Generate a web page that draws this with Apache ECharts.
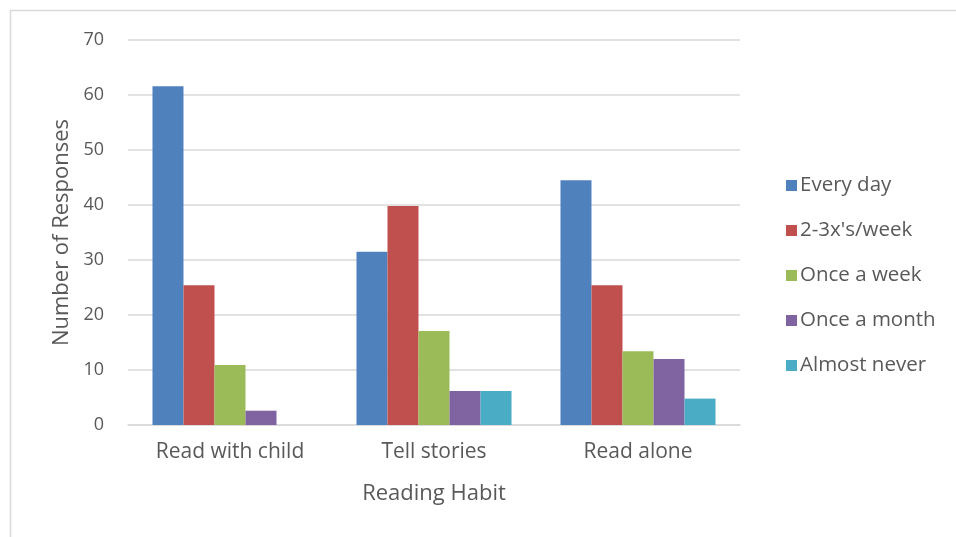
<!DOCTYPE html>
<html>
<head>
<meta charset="utf-8">
<script src="https://cdn.jsdelivr.net/npm/echarts@6/dist/echarts.min.js"></script>
<style>
  html, body { margin: 0; padding: 0; background: #fff; }
  #chart { width: 956px; height: 537px; }
</style>
</head>
<body>
<div id="chart"></div>
<script>
// Reading habit survey: number of responses per frequency
const categories = ['Read with child', 'Tell stories', 'Read alone'];
const seriesNames = ['Every day', "2-3x's/week", 'Once a week', 'Once a month', 'Almost never'];
const everyDay = [61.6, 31.5, 44.5];
const twoThreeWeek = [25.4, 39.8, 25.4];
const onceWeek = [10.9, 17.1, 13.4];
const onceMonth = [2.6, 6.2, 12.0];
const almostNever = [0, 6.2, 4.8];
const yTicks = [0, 10, 20, 30, 40, 50, 60, 70];

const seriesValues = [everyDay, twoThreeWeek, onceWeek, onceMonth, almostNever];
const colors = ['#4F81BD', '#C0504D', '#9BBB59', '#8064A2', '#4BACC6'];
const font = '"Open Sans", "Noto Sans", sans-serif';
const textColor = '#595959';

const chart = echarts.init(document.getElementById('chart'));
chart.setOption({
  animation: false,
  color: colors,
  textStyle: { fontFamily: font },
  graphic: [{
    type: 'rect',
    shape: { x: 10.5, y: 10.5, width: 1000, height: 600 },
    style: { fill: 'none', stroke: '#d9d9d9', lineWidth: 1.5 },
    silent: true,
    z: -1
  }],
  grid: { left: 128, right: 216, top: 40, bottom: 112 },
  legend: {
    orient: 'vertical',
    left: 781,
    top: 170,
    itemWidth: 11,
    itemHeight: 11,
    itemGap: 24,
    icon: 'rect',
    data: seriesNames,
    textStyle: { fontFamily: font, fontSize: 20.5, color: textColor, padding: [0, 0, 0, -2] }
  },
  xAxis: {
    type: 'category',
    data: categories,
    name: 'Reading Habit',
    nameLocation: 'middle',
    nameGap: 58,
    nameTextStyle: { fontFamily: font, fontSize: 22, color: textColor },
    axisLine: { show: true, lineStyle: { color: '#d9d9d9', width: 1.5 } },
    axisTick: { show: false },
    axisLabel: { fontFamily: font, fontSize: 21, color: textColor, margin: 17 }
  },
  yAxis: {
    type: 'value',
    min: yTicks[0],
    max: yTicks[yTicks.length - 1],
    interval: 10,
    name: 'Number of Responses',
    nameLocation: 'middle',
    nameGap: 55,
    nameRotate: 90,
    nameTextStyle: { fontFamily: font, fontSize: 22, color: textColor },
    axisLine: { show: false },
    axisTick: { show: false },
    axisLabel: { fontFamily: font, fontSize: 18, color: textColor, margin: 24 },
    splitLine: { lineStyle: { color: '#d9d9d9', width: 1.5 } }
  },
  series: seriesNames.map((name, i) => ({
    name: name,
    type: 'bar',
    data: seriesValues[i],
    barGap: '0%',
    barCategoryGap: '24%',
    itemStyle: { color: colors[i] }
  }))
});
</script>
</body>
</html>
